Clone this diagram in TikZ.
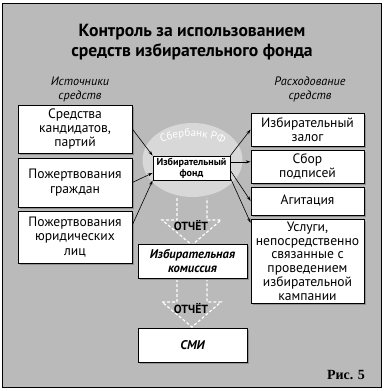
\documentclass[tikz,border=0pt]{standalone}
\usepackage{fontspec}
\setmainfont{PT Sans}
\newfontfamily\serifbold{Liberation Serif}
\usetikzlibrary{shadows,arrows.meta,calc,decorations.text}
\definecolor{bg}{HTML}{BABABA}
\definecolor{ell}{HTML}{D8D8D8}
\definecolor{shd}{HTML}{909090}
\tikzset{
  box/.style={draw=black, line width=0.7pt, fill=white, align=center, inner sep=1pt,
    font=\fontsize{13.6}{14.3}\selectfont,
    drop shadow={shadow xshift=2pt, shadow yshift=-2pt, fill=shd, opacity=1}},
  arr/.style={-{Stealth[length=5pt,width=3pt]}, line width=0.6pt},
  hollowarrow/.style={draw=white, dashed, dash pattern=on 3pt off 2pt, line width=1.2pt},
  bigtitle/.style={font=\bfseries\fontsize{17.6}{20.5}\selectfont, align=center},
  subtitle/.style={font=\itshape\fontsize{12.2}{14}\selectfont, align=center},
  report/.style={font=\bfseries\fontsize{11.8}{13}\selectfont},
}
\begin{document}
\begin{tikzpicture}[x=1pt,y=-1pt]
\useasboundingbox (0,0) rectangle (384,391);
\fill[white] (0,0) rectangle (384,391);
\draw[fill=bg, line width=1.6pt] (2.5,3.5) rectangle (381.5,387.5);

\node[bigtitle] (title) at (192,42) {Контроль за использованием\\средств избирательного фонда};
\node[subtitle] (src) at (80,89) {Источники\\средств};
\node[subtitle] (exp) at (310,89) {Расходование\\средств};

% ellipse Sberbank
\fill[ell] (192.5,160) ellipse [x radius=50, y radius=37];
\path[decorate, decoration={text along path, text align=center,
   text={|\fontsize{11}{12}\selectfont\color{white}|Сбербанк РФ}}]
   (147,152) .. controls (168,131) and (217,131) .. (238,154);

% left boxes
\node[box, minimum width=114pt, minimum height=48pt] (L1) at (75,129) {Средства\\кандидатов,\\партий};
\node[box, minimum width=114pt, minimum height=49pt] (L2) at (75,182.5) {Пожертвования\\граждан};
\node[box, minimum width=114pt, minimum height=52pt] (L3) at (75,237) {Пожертвования\\юридических\\лиц};

% right boxes
\node[box, minimum width=113pt, minimum height=33pt] (R1) at (307.5,129.5) {Избирательный\\залог};
\node[box, minimum width=113pt, minimum height=33pt] (R2) at (307.5,166.5) {Сбор\\подписей};
\node[box, minimum width=113pt, minimum height=28pt] (R3) at (307.5,201) {Агитация};
\node[box, minimum width=113pt, minimum height=84pt, font=\fontsize{13.6}{13.8}\selectfont] (R4) at (307.5,261) {Услуги,\\непосредственно\\связанные с\\проведением\\избирательной\\кампании};

% fund box
\node[draw=black, line width=0.7pt, fill=white, align=center, inner sep=1pt,
  font=\bfseries\fontsize{10.1}{11.2}\selectfont, minimum width=77pt, minimum height=24pt] (fund) at (191.5,168) {Избирательный\\фонд};

% hollow dashed arrows
\draw[hollowarrow] (177,198) -- (177,220) -- (162,220) -- (192,245) -- (221,220) -- (207,220) -- (207,198);
\draw[hollowarrow] (177,279) -- (177,302) -- (162,302) -- (192,327) -- (221,302) -- (207,302) -- (207,279);
\node[report] (rep1) at (191,226) {ОТЧЁТ};
\node[report] (rep2) at (191,309) {ОТЧЁТ};

\node[box, font=\bfseries\itshape\fontsize{12.6}{14}\selectfont, minimum width=109pt, minimum height=34pt] (com) at (192.5,261) {Избирательная\\комиссия};
\node[box, font=\bfseries\itshape\fontsize{12.6}{14}\selectfont, minimum width=109pt, minimum height=34pt] (smi) at (192.5,345) {СМИ};

% arrows in
\coordinate (l3s) at ($(L3.north east)!0.27!(L3.south east)$);
\coordinate (f2) at ($(fund.south west)!0.3!(fund.north west)$);
\draw[arr] (L1.east) -- (fund.north west);
\draw[arr] (L2.east) -- (f2);
\draw[arr] (l3s) -- (fund.south west);

% arrows out
\coordinate (fo2) at ($(fund.north east)!0.25!(fund.south east)$);
\coordinate (fo3) at ($(fund.north east)!0.6!(fund.south east)$);
\coordinate (fo4) at ($(fund.north east)!0.9!(fund.south east)$);
\coordinate (r4in) at ($(R4.north west)!0.05!(R4.south west)$);
\draw[arr] (fund.north east) -- (R1.west);
\draw[arr] (fo2) -- (fo2 -| R2.west);
\draw[arr] (fo3) -- (R3.west);
\draw[arr] (fo4) -- (r4in);

\node[font=\serifbold\bfseries\fontsize{14}{16}\selectfont] (fig) at (346,375) {Рис. 5};
\end{tikzpicture}
\end{document}
